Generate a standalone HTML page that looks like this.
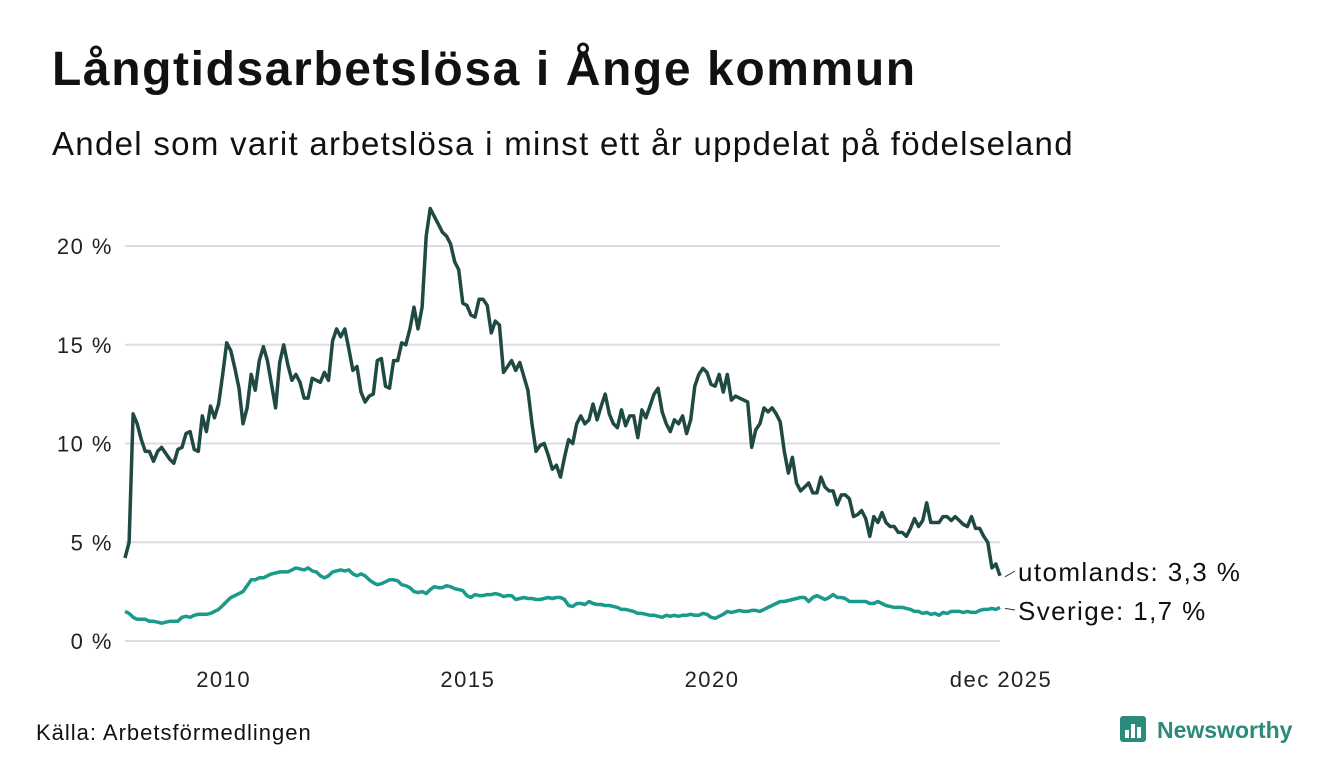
<!DOCTYPE html>
<html><head><meta charset="utf-8">
<style>
body{margin:0;background:#fff;font-family:"Liberation Sans",sans-serif;}
#wrap{position:relative;width:1340px;height:780px;overflow:hidden;}
h1{position:absolute;left:52px;top:42px;margin:0;font-size:48px;font-weight:bold;color:#111;letter-spacing:1.6px}
h2{position:absolute;left:52px;top:125px;margin:0;font-size:33px;font-weight:normal;color:#111;letter-spacing:1.3px}
svg{position:absolute;left:0;top:0}
</style></head><body>
<div id="wrap">
<h1>Långtidsarbetslösa i Ånge kommun</h1>
<h2>Andel som varit arbetslösa i minst ett år uppdelat på födelseland</h2>
<svg id="chart" width="1340" height="780"></svg>
</div>
<script>
const yTicks=[0,5,10,15,20];
const yTickLabels=["0 %","5 %","10 %","15 %","20 %"];
const xTickMonths=[24,84,144,215];
const xTickLabels=["2010","2015","2020","dec 2025"];
const foreign=[4.2,5.0,11.5,11.0,10.2,9.6,9.6,9.1,9.6,9.8,9.5,9.2,
9.0,9.7,9.8,10.5,10.6,9.7,9.6,11.4,10.6,11.9,11.3,12.0,
13.5,15.1,14.7,13.8,12.8,11.0,11.8,13.5,12.7,14.2,14.9,14.2,
13.0,11.8,14.1,15.0,14.0,13.2,13.5,13.1,12.3,12.3,13.3,13.2,
13.1,13.6,13.2,15.2,15.8,15.4,15.8,14.8,13.7,13.9,12.6,12.1,
12.4,12.5,14.2,14.3,12.9,12.8,14.2,14.2,15.1,15.0,15.8,16.9,
15.8,16.9,20.5,21.9,21.5,21.1,20.7,20.5,20.1,19.2,18.8,17.1,
17.0,16.5,16.4,17.3,17.3,17.0,15.6,16.2,16.0,13.6,13.9,14.2,
13.7,14.1,13.4,12.7,11.0,9.6,9.9,10.0,9.4,8.7,8.9,8.3,
9.3,10.2,10.0,11.0,11.4,11.0,11.2,12.0,11.2,11.9,12.5,11.5,
11.0,10.8,11.7,10.9,11.4,11.4,10.3,11.7,11.3,11.9,12.5,12.8,
11.6,11.0,10.6,11.2,11.0,11.4,10.5,11.2,12.9,13.5,13.8,13.6,
13.0,12.9,13.5,12.6,13.5,12.2,12.4,12.3,12.2,12.1,9.8,10.7,
11.0,11.8,11.6,11.8,11.5,11.1,9.6,8.5,9.3,8.0,7.6,7.8,
8.0,7.5,7.5,8.3,7.8,7.6,7.6,6.9,7.4,7.4,7.2,6.3,
6.4,6.6,6.2,5.3,6.3,6.0,6.5,6.0,5.8,5.8,5.5,5.5,
5.3,5.7,6.2,5.8,6.1,7.0,6.0,6.0,6.0,6.3,6.3,6.1,
6.3,6.1,5.9,5.8,6.3,5.7,5.7,5.3,5.0,3.7,3.9,3.3];
const sweden=[1.5,1.4,1.2,1.1,1.1,1.1,1.0,1.0,0.95,0.9,0.95,1.0,
1.0,1.0,1.2,1.25,1.2,1.3,1.35,1.35,1.35,1.4,1.5,1.6,
1.8,2.0,2.2,2.3,2.4,2.5,2.8,3.1,3.1,3.2,3.2,3.3,
3.4,3.45,3.5,3.5,3.5,3.6,3.7,3.65,3.6,3.7,3.55,3.5,
3.3,3.2,3.3,3.5,3.55,3.6,3.55,3.6,3.4,3.3,3.4,3.3,
3.1,2.95,2.85,2.9,3.0,3.1,3.1,3.05,2.85,2.8,2.7,2.5,
2.45,2.5,2.4,2.6,2.75,2.7,2.7,2.8,2.75,2.65,2.6,2.55,
2.3,2.2,2.35,2.3,2.3,2.35,2.35,2.4,2.35,2.25,2.3,2.3,
2.1,2.15,2.2,2.15,2.15,2.1,2.1,2.15,2.2,2.15,2.2,2.2,
2.1,1.8,1.75,1.9,1.9,1.85,2.0,1.9,1.85,1.85,1.8,1.8,
1.75,1.7,1.6,1.6,1.55,1.5,1.4,1.4,1.35,1.3,1.3,1.25,
1.2,1.3,1.25,1.3,1.25,1.3,1.3,1.35,1.3,1.3,1.4,1.35,
1.2,1.15,1.25,1.35,1.5,1.45,1.5,1.55,1.5,1.5,1.55,1.55,
1.5,1.6,1.7,1.8,1.9,2.0,2.0,2.05,2.1,2.15,2.2,2.2,
2.0,2.2,2.3,2.2,2.1,2.2,2.35,2.2,2.2,2.15,2.0,2.0,
2.0,2.0,2.0,1.9,1.9,2.0,1.9,1.8,1.75,1.7,1.7,1.7,
1.65,1.6,1.5,1.5,1.4,1.45,1.35,1.4,1.3,1.45,1.4,1.5,
1.5,1.5,1.45,1.5,1.45,1.45,1.55,1.6,1.6,1.65,1.6,1.7];
const seriesLabels=["utomlands: 3,3 %","Sverige: 1,7 %"];

const NS="http://www.w3.org/2000/svg";
const svg=document.getElementById('chart');
const X0=125,X1=1000,Y0=641,PX_PER=19.75;
const n=foreign.length;
function xs(i){return X0+(X1-X0)*i/(n-1);}
function ys(v){return Y0-v*PX_PER;}
function mk(t,a){const e=document.createElementNS(NS,t);for(const k in a)e.setAttribute(k,a[k]);svg.appendChild(e);return e;}

yTicks.forEach((v,i)=>{
  const g=mk('line',{x1:125,x2:1000,y1:ys(v),y2:ys(v),stroke:'#dcdce2','stroke-width':2});
  
  
  const t=mk('text',{x:113,y:ys(v)+8,'text-anchor':'end','font-size':22,'letter-spacing':1.5,fill:'#222','font-family':'Liberation Sans, sans-serif'});
  t.textContent=yTickLabels[i];
  
  
});
xTickMonths.forEach((m,i)=>{
  const t=mk('text',{x:xs(m)+1,y:687,'text-anchor':'middle','font-size':22,'letter-spacing':1.5,fill:'#222','font-family':'Liberation Sans, sans-serif'});
  t.textContent=xTickLabels[i];
  
  
});
function line(arr,color,name){
  const d=arr.map((v,i)=>(i?'L':'M')+xs(i).toFixed(1)+','+ys(v).toFixed(1)).join('');
  const p=mk('path',{d:d,fill:'none',stroke:color,'stroke-width':3.5,'stroke-linejoin':'round'});
  
  
}
line(sweden,'#1a9a8a','line-sverige');
line(foreign,'#1e4a43','line-utomlands');
[[foreign,572],[sweden,611]].forEach((s,i)=>{
  const yv=ys(s[0][n-1]);
  const c=mk('line',{x1:1005,y1:yv+1,x2:1015,y2:s[1]-1,stroke:'#333','stroke-width':1});
  
  
  const t=mk('text',{x:1018,y:s[1]+9,'font-size':26,'letter-spacing':1.4,fill:'#111','font-family':'Liberation Sans, sans-serif'});
  t.textContent=seriesLabels[i];
  
  
});
const src=mk('text',{x:36,y:740,'font-size':22,'letter-spacing':1,fill:'#111','font-family':'Liberation Sans, sans-serif'});
src.textContent='Källa: Arbetsförmedlingen';


const logo=mk('g',{});


const r=document.createElementNS(NS,'rect');
r.setAttribute('x',1120);r.setAttribute('y',716);r.setAttribute('width',26);r.setAttribute('height',26);r.setAttribute('rx',3);r.setAttribute('fill','#2a8a7c');
logo.appendChild(r);
[[1125,730,4],[1131,724,4],[1137,727,4]].forEach(b=>{const q=document.createElementNS(NS,'rect');q.setAttribute('x',b[0]);q.setAttribute('y',b[1]);q.setAttribute('width',b[2]);q.setAttribute('height',738-b[1]);q.setAttribute('fill','#fff');logo.appendChild(q);});
const lt=document.createElementNS(NS,'text');
lt.setAttribute('x',1157);lt.setAttribute('y',738);lt.setAttribute('font-size',23);lt.setAttribute('font-weight','bold');lt.setAttribute('fill','#2a8a7c');lt.setAttribute('font-family','Liberation Sans, sans-serif');
lt.textContent='Newsworthy';
logo.appendChild(lt);
</script>
</body></html>
